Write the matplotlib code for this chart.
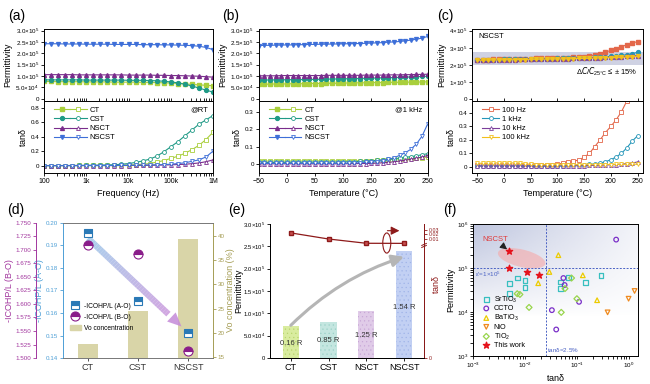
import matplotlib
matplotlib.use('Agg')
import matplotlib.pyplot as plt
import numpy as np
from matplotlib.ticker import FuncFormatter, MultipleLocator, FixedLocator
from matplotlib.legend_handler import HandlerTuple
from matplotlib.lines import Line2D
from matplotlib.patches import Ellipse, Patch
from matplotlib.collections import LineCollection
from matplotlib.colors import to_rgb

plt.rcParams['font.family'] = ['Liberation Sans', 'DejaVu Sans']
plt.rcParams['mathtext.default'] = 'regular'
plt.rcParams['font.size'] = 5
plt.rcParams['axes.linewidth'] = 0.7
plt.rcParams['hatch.linewidth'] = 0.35

# ---------------- (a) frequency sweep at RT ----------------
freq = [100, 147, 215, 316, 464, 681, 1000, 1470, 2150, 3160, 4640, 6810,
        1e4, 1.47e4, 2.15e4, 3.16e4, 4.64e4, 6.81e4, 1e5, 1.47e5, 2.15e5,
        3.16e5, 4.64e5, 6.81e5, 1e6]
# permittivity in units of 1e5
eps_f_ct = [0.76, 0.76, 0.75, 0.75, 0.75, 0.75, 0.74, 0.74, 0.74, 0.74, 0.73, 0.73,
            0.73, 0.73, 0.72, 0.72, 0.71, 0.70, 0.69, 0.67, 0.65, 0.63, 0.61, 0.59, 0.57]
eps_f_cst = [0.83, 0.83, 0.83, 0.83, 0.83, 0.83, 0.82, 0.82, 0.82, 0.82, 0.82, 0.82,
             0.81, 0.81, 0.81, 0.80, 0.79, 0.77, 0.74, 0.70, 0.64, 0.56, 0.47, 0.38, 0.29]
eps_f_nsct = [1.06, 1.06, 1.06, 1.06, 1.06, 1.05, 1.05, 1.05, 1.05, 1.05, 1.05, 1.05,
              1.04, 1.04, 1.04, 1.04, 1.03, 1.03, 1.02, 1.02, 1.01, 1.00, 0.99, 0.97, 0.95]
eps_f_nscst = [2.42, 2.42, 2.42, 2.41, 2.41, 2.41, 2.40, 2.40, 2.40, 2.40, 2.39, 2.39,
               2.39, 2.39, 2.38, 2.38, 2.38, 2.37, 2.37, 2.36, 2.35, 2.34, 2.31, 2.26, 2.16]
tan_f_ct = [0.003, 0.003, 0.003, 0.003, 0.003, 0.004, 0.004, 0.004, 0.005, 0.005, 0.006, 0.008,
            0.01, 0.015, 0.02, 0.03, 0.05, 0.07, 0.10, 0.13, 0.17, 0.22, 0.28, 0.36, 0.46]
tan_f_cst = [0.002, 0.002, 0.002, 0.003, 0.003, 0.004, 0.005, 0.006, 0.008, 0.01, 0.014, 0.02,
             0.03, 0.045, 0.065, 0.09, 0.13, 0.19, 0.26, 0.33, 0.41, 0.49, 0.57, 0.63, 0.69]
tan_f_nsct = [0.001, 0.001, 0.001, 0.001, 0.001, 0.001, 0.002, 0.002, 0.002, 0.002, 0.002, 0.003,
              0.003, 0.004, 0.005, 0.006, 0.008, 0.01, 0.012, 0.016, 0.02, 0.028, 0.038, 0.055, 0.08]
tan_f_nscst = [0.002, 0.002, 0.002, 0.002, 0.002, 0.002, 0.003, 0.003, 0.003, 0.003, 0.004, 0.004,
               0.005, 0.006, 0.008, 0.01, 0.012, 0.016, 0.02, 0.03, 0.04, 0.06, 0.08, 0.12, 0.20]

# ---------------- (b) temperature sweep at 1 kHz ----------------
temps = [-50, -40, -30, -20, -10, 0, 10, 20, 30, 40, 50, 60, 70, 80, 90, 100,
         110, 120, 130, 140, 150, 160, 170, 180, 190, 200, 210, 220, 230, 240, 250]
eps_t_ct = [0.64, 0.64, 0.64, 0.65, 0.65, 0.65, 0.66, 0.66, 0.66, 0.67, 0.67, 0.67, 0.68, 0.68, 0.68,
            0.69, 0.69, 0.70, 0.70, 0.70, 0.71, 0.71, 0.71, 0.72, 0.72, 0.72, 0.73, 0.73, 0.73, 0.74, 0.74]
eps_t_cst = [0.82, 0.82, 0.83, 0.83, 0.83, 0.84, 0.84, 0.84, 0.85, 0.85, 0.85, 0.86, 0.86, 0.87, 0.87,
             0.88, 0.88, 0.89, 0.89, 0.90, 0.91, 0.91, 0.92, 0.93, 0.93, 0.94, 0.95, 0.96, 0.97, 0.98, 0.99]
eps_t_nsct = [1.01, 1.01, 1.01, 1.01, 1.02, 1.02, 1.02, 1.02, 1.02, 1.02, 1.02, 1.02, 1.03, 1.03, 1.03,
              1.03, 1.03, 1.03, 1.03, 1.04, 1.04, 1.04, 1.04, 1.05, 1.05, 1.05, 1.06, 1.06, 1.07, 1.07, 1.08]
eps_t_nscst = [2.34, 2.35, 2.35, 2.36, 2.36, 2.37, 2.37, 2.38, 2.38, 2.39, 2.39, 2.40, 2.40, 2.41, 2.41,
               2.42, 2.42, 2.43, 2.43, 2.44, 2.45, 2.46, 2.47, 2.49, 2.50, 2.52, 2.55, 2.58, 2.62, 2.67, 2.74]
tan_t_ct = [0.018, 0.018, 0.018, 0.018, 0.018, 0.018, 0.018, 0.018, 0.018, 0.018, 0.019, 0.019, 0.019,
            0.019, 0.019, 0.019, 0.02, 0.02, 0.02, 0.02, 0.02,
            0.022, 0.024, 0.026, 0.028, 0.03, 0.032, 0.034, 0.036, 0.038, 0.04]
tan_t_cst = [0.010, 0.010, 0.010, 0.010, 0.010, 0.011, 0.011, 0.011, 0.011, 0.011, 0.012, 0.012, 0.012,
             0.012, 0.012, 0.013, 0.014, 0.015, 0.016, 0.018, 0.02, 0.022, 0.025, 0.028, 0.031, 0.035,
             0.039, 0.043, 0.048, 0.054, 0.06]
tan_t_nsct = [0.002, 0.002, 0.002, 0.002, 0.002, 0.002, 0.002, 0.002, 0.002, 0.002, 0.002, 0.002, 0.002,
              0.002, 0.002, 0.002, 0.003, 0.003, 0.004, 0.004, 0.005, 0.006, 0.008, 0.01, 0.014, 0.018,
              0.023, 0.028, 0.034, 0.041, 0.05]
tan_t_nscst = [0.005, 0.005, 0.005, 0.005, 0.005, 0.005, 0.005, 0.005, 0.005, 0.005, 0.005, 0.005, 0.005,
               0.005, 0.005, 0.005, 0.006, 0.007, 0.008, 0.01, 0.012, 0.015, 0.02, 0.027, 0.037, 0.05,
               0.065, 0.085, 0.115, 0.16, 0.23]

# ---------------- (c) NSCST at several frequencies ----------------
eps_c_100hz = [2.30, 2.31, 2.32, 2.33, 2.33, 2.34, 2.35, 2.35, 2.36, 2.36, 2.37, 2.38, 2.38, 2.39, 2.40,
               2.41, 2.42, 2.43, 2.44, 2.46, 2.48, 2.52, 2.58, 2.66, 2.75, 2.85, 2.96, 3.07, 3.18, 3.28, 3.36]
eps_c_1k = [2.30, 2.31, 2.31, 2.32, 2.32, 2.33, 2.33, 2.34, 2.34, 2.35, 2.35, 2.36, 2.36, 2.37, 2.37,
            2.38, 2.39, 2.39, 2.40, 2.41, 2.42, 2.43, 2.44, 2.46, 2.48, 2.50, 2.53, 2.56, 2.60, 2.66, 2.74]
eps_c_10k = [2.29, 2.29, 2.30, 2.30, 2.31, 2.31, 2.32, 2.32, 2.33, 2.33, 2.34, 2.34, 2.35, 2.35, 2.36,
             2.36, 2.37, 2.37, 2.38, 2.39, 2.40, 2.41, 2.42, 2.43, 2.44, 2.45, 2.47, 2.48, 2.50, 2.52, 2.55]
eps_c_100k = [2.28, 2.28, 2.29, 2.29, 2.30, 2.30, 2.31, 2.31, 2.32, 2.32, 2.33, 2.33, 2.34, 2.34, 2.35,
              2.35, 2.36, 2.36, 2.37, 2.38, 2.38, 2.39, 2.40, 2.41, 2.42, 2.43, 2.44, 2.45, 2.46, 2.48, 2.50]
tan_c_100hz = [0.012, 0.012, 0.012, 0.012, 0.012, 0.012, 0.012, 0.012, 0.012, 0.012, 0.012, 0.012, 0.012,
               0.012, 0.012, 0.02, 0.025, 0.032, 0.04, 0.05, 0.07, 0.10, 0.15, 0.20, 0.255, 0.30, 0.35,
               0.41, 0.49, 0.58, 0.68]
tan_c_1k = [0.005, 0.005, 0.005, 0.005, 0.005, 0.005, 0.005, 0.005, 0.005, 0.005, 0.005, 0.005, 0.005,
            0.005, 0.005, 0.005, 0.007, 0.009, 0.011, 0.013, 0.015, 0.018, 0.021, 0.027, 0.037, 0.052,
            0.072, 0.10, 0.14, 0.19, 0.23]
tan_c_10k = [0.005, 0.005, 0.005, 0.005, 0.005, 0.005, 0.005, 0.005, 0.005, 0.005, 0.005, 0.005, 0.005,
             0.005, 0.005, 0.005, 0.006, 0.006, 0.007, 0.007, 0.008, 0.009, 0.01, 0.011, 0.012, 0.014,
             0.016, 0.019, 0.023, 0.028, 0.035]
tan_c_100k = [0.025, 0.026, 0.027, 0.028, 0.028, 0.028, 0.028, 0.028, 0.027, 0.022, 0.017, 0.015, 0.015,
              0.015, 0.015, 0.015, 0.015, 0.015, 0.015, 0.015, 0.015, 0.015, 0.015, 0.015, 0.016, 0.016,
              0.017, 0.017, 0.018, 0.018, 0.019]

# ---------------- (d) ICOHP and oxygen vacancies ----------------
samples_d = ['CT', 'CST', 'NSCST']
icohp_ao = [0.1955, 0.1653, 0.1510]
icohp_bo = [1.709, 1.692, 1.513]
vo_conc = [17.7, 24.6, 39.3]

# ---------------- (e) permittivity / tan at RT ----------------
samples_e = ['CT', 'CST', 'NSCT', 'NSCST']
eps_e = [7.1e4, 8.1e4, 1.05e5, 2.385e5]
tan_e = [0.0235, 0.0100, 0.0005, 0.0003]
ratio_labels = ['0.16 R', '0.85 R', '1.25 R', '1.54 R']

# ---------------- (f) comparison with literature ----------------
sto_tan = [0.005, 0.005, 0.0071, 0.01, 0.01, 0.049, 0.049, 0.069, 0.148, 0.29]
sto_eps = [4.5e4, 2.6e4, 5.9e4, 5.2e4, 3.6e4, 4.8e4, 3.4e4, 6.0e4, 4.7e4, 6.8e4]
ccto_tan = [0.57, 0.055, 0.058, 0.033, 0.11, 0.04]
ccto_eps = [4.4e5, 5.9e4, 4.1e4, 1.1e4, 1.7e4, 4.0e3]
bto_tan = [0.044, 0.0295, 0.018, 0.13, 0.245]
bto_eps = [1.95e5, 8.1e4, 4.5e4, 6.8e4, 1.85e4]
nio_tan = [1.29, 0.99, 0.39]
nio_eps = [3.0e4, 2.0e4, 9.8e3]
tio2_tan = [0.0071, 0.008, 0.012, 0.059, 0.079, 0.1, 0.05]
tio2_eps = [2.6e4, 2.5e4, 1.27e4, 3.4e4, 5.9e4, 2.0e4, 9.8e3]
work_tan = [0.005, 0.005, 0.011, 0.0186]
work_eps = [2.4e5, 1.0e5, 8.0e4, 6.8e4]
tan_limit = 0.025
eps_limit = 1e5

col_ct, col_cst, col_nsct, col_nscst = '#a9cf3c', '#1f9a86', '#7a2d8c', '#3e6fd8'
col_f = ['#e3674a', '#2596b9', '#7c3f9b', '#f2c01c']


def sci_label(v, digits):
    if abs(v) < 1e-9:
        return '0'
    e = int(np.floor(np.log10(abs(v)) + 1e-9))
    m = v / 10 ** e
    return rf'${m:.{digits}f}{{\times}}10^{{{e}}}$'


fmt1 = FuncFormatter(lambda v, p: sci_label(v, 1))
fmt0 = FuncFormatter(lambda v, p: sci_label(v, 0))

fig = plt.figure(figsize=(6.5, 3.84), dpi=100)


def tick_style(ax, size=4.5):
    ax.tick_params(labelsize=size, length=2, width=0.6, pad=1.5)


def stack_axes(left, width):
    top = fig.add_axes([left, 0.737, width, 0.1875])
    bot = fig.add_axes([left, 0.5495, width, 0.1875], sharex=top)
    tick_style(top)
    tick_style(bot)
    top.tick_params(labelbottom=False)
    top.tick_params(axis='x', which='both', direction='in')
    top.set_ylabel('Permittivity', fontsize=6.5, labelpad=2)
    bot.set_ylabel(r'tan$\delta$', fontsize=6.5, labelpad=2)
    return top, bot


def tuple_legend(ax, series):
    handles, labels = [], []
    for name, c, m in series:
        h1 = Line2D([], [], color=c, marker=m, ms=2.8, lw=0.8)
        h2 = Line2D([], [], color=c, marker=m, ms=2.8, lw=0.8, mfc='white', mew=0.6)
        handles.append((h1, h2))
        labels.append(name)
    ax.legend(handles, labels, handler_map={tuple: HandlerTuple(ndivide=None, pad=0)},
              loc='upper left', bbox_to_anchor=(0.03, 1.0), frameon=False, fontsize=5.5,
              handlelength=4.2, labelspacing=0.25, handletextpad=0.4, borderaxespad=0.3)


# ---- (a)
ax_a1, ax_a2 = stack_axes(0.0677, 0.26)
series_a = [('CT', eps_f_ct, tan_f_ct, col_ct, 's'),
            ('CST', eps_f_cst, tan_f_cst, col_cst, 'o'),
            ('NSCT', eps_f_nsct, tan_f_nsct, col_nsct, '^'),
            ('NSCST', eps_f_nscst, tan_f_nscst, col_nscst, 'v')]
for name, eps, tan, c, m in series_a:
    ax_a1.plot(freq, np.array(eps) * 1e5, color=c, marker=m, ms=2.8, lw=0.8)
    ax_a2.plot(freq, tan, color=c, marker=m, ms=2.8, lw=0.8, mfc='white', mew=0.6)
ax_a1.set_xscale('log')
ax_a1.set_xlim(100, 1e6)
ax_a1.set_ylim(-1e4, 3.07e5)
ax_a1.yaxis.set_major_locator(FixedLocator([0, 5e4, 1e5, 1.5e5, 2e5, 2.5e5, 3e5]))
ax_a1.yaxis.set_major_formatter(fmt1)
ax_a2.set_ylim(-0.1, 0.89)
ax_a2.yaxis.set_major_locator(MultipleLocator(0.2))
ax_a2.yaxis.set_major_formatter(FuncFormatter(lambda v, p: '0' if abs(v) < 1e-9 else f'{v:.1f}'))
ax_a2.xaxis.set_major_locator(FixedLocator([100, 1e3, 1e4, 1e5, 1e6]))
ax_a2.set_xticklabels(['100', '1k', '10k', '100k', '1M'])
ax_a2.tick_params(axis='x', labelsize=5)
ax_a2.set_xlabel('Frequency (Hz)', fontsize=6.5, labelpad=3)
tuple_legend(ax_a2, [(s[0], s[3], s[4]) for s in series_a])
ax_a2.text(0.97, 0.86, '@RT', transform=ax_a2.transAxes, ha='right', fontsize=5.5)

# ---- (b)
ax_b1, ax_b2 = stack_axes(0.398, 0.26)
series_b = [('CT', eps_t_ct, tan_t_ct, col_ct, 's'),
            ('CST', eps_t_cst, tan_t_cst, col_cst, 'o'),
            ('NSCT', eps_t_nsct, tan_t_nsct, col_nsct, '^'),
            ('NSCST', eps_t_nscst, tan_t_nscst, col_nscst, 'v')]
for name, eps, tan, c, m in series_b:
    ax_b1.plot(temps, np.array(eps) * 1e5, color=c, marker=m, ms=2.8, lw=0.8)
    ax_b2.plot(temps, tan, color=c, marker=m, ms=2.8, lw=0.8, mfc='white', mew=0.6)
ax_b1.set_xlim(-50, 250)
ax_b1.set_ylim(-1e4, 3.07e5)
ax_b1.yaxis.set_major_locator(FixedLocator([0, 5e4, 1e5, 1.5e5, 2e5, 2.5e5, 3e5]))
ax_b1.yaxis.set_major_formatter(fmt1)
ax_b2.set_ylim(-0.05, 0.36)
ax_b2.yaxis.set_major_locator(MultipleLocator(0.1))
ax_b2.yaxis.set_major_formatter(FuncFormatter(lambda v, p: '0' if abs(v) < 1e-9 else f'{v:.1f}'))
ax_b2.xaxis.set_major_locator(MultipleLocator(50))
ax_b2.tick_params(axis='x', labelsize=5)
ax_b2.set_xlabel('Temperature (°C)', fontsize=6.5, labelpad=3)
tuple_legend(ax_b2, [(s[0], s[3], s[4]) for s in series_b])
ax_b2.text(0.97, 0.86, '@1 kHz', transform=ax_b2.transAxes, ha='right', fontsize=5.5)

# ---- (c)
ax_c1, ax_c2 = stack_axes(0.726, 0.263)
series_c = [('100 Hz', eps_c_100hz, tan_c_100hz, col_f[0], 's'),
            ('1 kHz', eps_c_1k, tan_c_1k, col_f[1], 'o'),
            ('10 kHz', eps_c_10k, tan_c_10k, col_f[2], '^'),
            ('100 kHz', eps_c_100k, tan_c_100k, col_f[3], 'v')]
c25 = (eps_c_1k[7] + eps_c_1k[8]) / 2 * 1e5
ax_c1.axhspan(c25 * 0.86, c25 * 1.18, color='#cfd2e3', lw=0, zorder=0)
for name, eps, tan, c, m in series_c:
    ax_c1.plot(temps, np.array(eps) * 1e5, color=c, marker=m, ms=2.8, lw=0.8)
    ax_c2.plot(temps, tan, color=c, marker=m, ms=2.8, lw=0.8, mfc='white', mew=0.6, label=name)
ax_c1.set_xlim(-60, 260)
ax_c1.set_ylim(-1e4, 4.1e5)
ax_c1.yaxis.set_major_locator(MultipleLocator(1e5))
ax_c1.yaxis.set_major_formatter(fmt0)
ax_c1.text(0.04, 0.87, 'NSCST', transform=ax_c1.transAxes, fontsize=5.5)
ax_c1.text(0.97, 0.36, r'$\Delta\mathit{C}/\mathit{C}_{25°C}\leq\pm$15%', transform=ax_c1.transAxes,
           ha='right', fontsize=5.5)
ax_c2.set_ylim(-0.047, 0.49)
ax_c2.yaxis.set_major_locator(MultipleLocator(0.1))
ax_c2.yaxis.set_major_formatter(FuncFormatter(lambda v, p: '0' if abs(v) < 1e-9 else f'{v:.1f}'))
ax_c2.xaxis.set_major_locator(MultipleLocator(50))
ax_c2.tick_params(axis='x', labelsize=5)
ax_c2.set_xlabel('Temperature (°C)', fontsize=6.5, labelpad=3)
ax_c2.legend(loc='upper left', bbox_to_anchor=(0.03, 1.0), frameon=False, fontsize=5.5,
             handlelength=2.2, labelspacing=0.25, handletextpad=0.4, borderaxespad=0.3)

# ---- (d)
c_ao, c_bo, c_vo = '#4d9fd6', '#a2369e', '#a59d55'
ax_d = fig.add_axes([0.0969, 0.0677, 0.2308, 0.3516])
ax_vo = ax_d.twinx()
ax_bo = ax_d.twinx()
ax_vo.set_zorder(0)
ax_d.set_zorder(1)
ax_bo.set_zorder(2)
ax_d.patch.set_visible(False)
ax_vo.patch.set_visible(True)
x_d = np.arange(len(samples_d))
ax_vo.bar(x_d, vo_conc, width=0.4, color='#d9d5a8', label='Vo concentration')
ax_vo.set_ylim(14.8, 42.7)
ax_vo.yaxis.set_major_locator(MultipleLocator(5))
ax_vo.set_ylabel('Vo concentration (%)', color=c_vo, fontsize=6.5, labelpad=1)
ax_vo.tick_params(axis='y', colors=c_vo, labelsize=4.5, length=2, width=0.6, pad=1.5)
ax_vo.spines['right'].set_color(c_vo)
for s in ['left', 'top', 'bottom']:
    ax_vo.spines[s].set_visible(False)

ax_d.set_xlim(-0.5, 2.5)
ax_d.set_ylim(0.14, 0.20)
ax_d.yaxis.set_major_locator(MultipleLocator(0.01))
ax_d.yaxis.set_major_formatter(FuncFormatter(lambda v, p: f'{v:.2f}'))
ax_d.set_xticks(x_d)
ax_d.set_xticklabels(samples_d, fontsize=6.5)
ax_d.tick_params(axis='x', length=2, width=0.6, pad=1.5, colors='#333333')
ax_d.tick_params(axis='y', colors=c_ao, labelsize=4.5, length=2, width=0.6, pad=1.5)
ax_d.spines['left'].set_color(c_ao)
ax_d.spines['right'].set_visible(False)
ax_d.spines['top'].set_color('#777777')
ax_d.spines['bottom'].set_color('#777777')
ax_d.set_ylabel('-ICOHP/L (A-O)', color=c_ao, fontsize=6.5, labelpad=1)

# gradient arrow from CT to NSCST
p0 = np.array([0.0, 0.1932])
p1 = np.array([1.87, 0.154])
nseg = 40
ts = np.linspace(0, 0.86, nseg + 1)
pts = p0 + np.outer(ts, p1 - p0)
segs = np.stack([pts[:-1], pts[1:]], axis=1)
ca, cb = np.array(to_rgb('#8fc0e6')), np.array(to_rgb('#c48ad8'))
cols = [ca + (cb - ca) * t / 0.86 for t in ts[:-1]]
ax_d.add_collection(LineCollection(segs, colors=cols, linewidths=4.5, alpha=0.75,
                                   capstyle='butt', zorder=2))
ax_d.annotate('', xy=tuple(p1), xytext=tuple(pts[-1]),
              arrowprops=dict(arrowstyle='-|>,head_width=0.45,head_length=1.0',
                              mutation_scale=10, color='#c48ad8', lw=0, alpha=0.85,
                              shrinkA=0, shrinkB=0), zorder=2)
ax_d.plot(x_d, icohp_ao, ls='none', marker='s', ms=6, color='#2a79b6', mfc='#2a79b6',
          mfcalt='white', fillstyle='top', mew=0.8, zorder=3, label='-ICOHP/L (A-O)')

ax_bo.plot(x_d, icohp_bo, ls='none', marker='o', ms=6.5, color='#8a1d8a', mfc='#8a1d8a',
           mfcalt='white', fillstyle='top', mew=0.8, zorder=3, label='-ICOHP/L (B-O)')
ax_bo.set_ylim(1.5, 1.75)
ax_bo.yaxis.set_major_locator(MultipleLocator(0.025))
ax_bo.yaxis.set_major_formatter(FuncFormatter(lambda v, p: f'{v:.3f}'))
ax_bo.yaxis.set_ticks_position('left')
ax_bo.yaxis.set_label_position('left')
ax_bo.spines['left'].set_visible(True)
ax_bo.spines['left'].set_position(('outward', 19.4))
ax_bo.spines['left'].set_color(c_bo)
for s in ['right', 'top', 'bottom']:
    ax_bo.spines[s].set_visible(False)
ax_bo.tick_params(axis='y', colors=c_bo, labelsize=4.5, length=2, width=0.6, pad=1.5)
ax_bo.set_ylabel('-ICOHP/L (B-O)', color=c_bo, fontsize=6.5, labelpad=1)

h_ao = Line2D([], [], ls='none', marker='s', ms=6, color='#2a79b6', mfcalt='white', fillstyle='top', mew=0.8)
h_bo = Line2D([], [], ls='none', marker='o', ms=6.5, color='#8a1d8a', mfcalt='white', fillstyle='top', mew=0.8)
h_vo = Patch(color='#d9d5a8')
ax_bo.legend([h_ao, h_bo, h_vo], ['-ICOHP/L (A-O)', '-ICOHP/L (B-O)', 'Vo concentration'],
             loc='upper left', bbox_to_anchor=(0.02, 0.44), frameon=False, fontsize=4.8,
             handlelength=1.6, labelspacing=0.6, handletextpad=0.5, borderaxespad=0.2)

# ---- (e)
ax_e = fig.add_axes([0.4154, 0.0677, 0.237, 0.349])
ax_e2 = ax_e.twinx()
x_e = np.arange(len(samples_e))
bar_cols = ['#d9ec9f', '#c4e6e0', '#e0cbe8', '#c2d0f3']
hatch_cols = ['#b7d46a', '#98d0c6', '#c7a6d6', '#9fb3e8']
for xi, h, fc, hc in zip(x_e, eps_e, bar_cols, hatch_cols):
    ax_e.bar(xi, h, width=0.43, color=fc, edgecolor=hc, lw=0, hatch='....', zorder=1)
for xi, h, txt in zip(x_e, eps_e, ratio_labels):
    ax_e.text(xi, h * 0.47, txt, ha='center', va='center', fontsize=5.5, color='#333333', zorder=3)
ax_e.annotate('', xy=(x_e[-1], eps_e[-1] * 0.95), xytext=(x_e[0], eps_e[0] * 1.03),
              arrowprops=dict(arrowstyle='-|>,head_width=0.35,head_length=0.7', mutation_scale=10,
                              connectionstyle='arc3,rad=-0.12', color='#b5b5b5', lw=2.2,
                              shrinkA=0, shrinkB=0), zorder=2)
ax_e.set_xlim(-0.55, 3.53)
ax_e.set_ylim(0, 3e5)
ax_e.yaxis.set_major_locator(MultipleLocator(5e4))
ax_e.yaxis.set_major_formatter(fmt1)
ax_e.set_xticks(x_e)
ax_e.set_xticklabels(samples_e, fontsize=6.5)
tick_style(ax_e, 4.2)
ax_e.tick_params(axis='x', labelsize=6.5)
ax_e.set_ylabel('Permittivity', fontsize=6.5, labelpad=0)
ax_e.spines['top'].set_visible(False)

c_tan = '#8e1a1a'
tan_lo = -0.254
ax_e2.plot(x_e, tan_e, color=c_tan, marker='s', ms=3.2, mfc='#c85050', mec=c_tan, lw=0.9)
ax_e2.set_ylim(tan_lo, 0.0433)
ax_e2.yaxis.set_major_locator(FixedLocator([tan_lo, 0.01, 0.02, 0.03]))
ax_e2.set_yticklabels(['0', '0.01', '0.02', '0.03'])
ax_e2.tick_params(axis='y', colors=c_tan, labelsize=3.8, length=2, width=0.6, pad=1.2)
ax_e2.spines['right'].set_color(c_tan)
ax_e2.spines['top'].set_visible(False)
ax_e2.set_ylabel(r'tan$\delta$', color=c_tan, fontsize=6.5)
ax_e2.yaxis.set_label_coords(1.04, 0.55)
for dy in (0.0, 0.015):
    ax_e2.plot([0.985, 1.015], [0.825 + dy, 0.84 + dy], transform=ax_e2.transAxes,
               color=c_tan, lw=0.7, clip_on=False)
ax_e2.add_patch(Ellipse((0.758, 0.858), 0.052, 0.15, transform=ax_e2.transAxes,
                        fill=False, ec=c_tan, lw=0.8))
ax_e2.annotate('', xy=(0.84, 0.95), xytext=(0.762, 0.95), xycoords='axes fraction',
               textcoords='axes fraction',
               arrowprops=dict(arrowstyle='-|>,head_width=0.25,head_length=0.5', mutation_scale=10,
                               color=c_tan, lw=0.8, shrinkA=0, shrinkB=0))

# ---- (f)
pos_f = [0.7277, 0.0729, 0.2538, 0.344]
bg = fig.add_axes(pos_f, zorder=-1)
gx, gy = np.meshgrid(np.linspace(0, 1, 200), np.linspace(0, 1, 200))
img = np.zeros((200, 200, 4))
img[..., :3] = to_rgb('#a9b2d4')
img[..., 3] = np.clip((gy - 0.3) / 0.7, 0, 1) ** 0.8 * (1 - 0.8 * gx) * 0.75
bg.imshow(img, extent=(0, 1, 0, 1), origin='lower', aspect='auto')
bg.set_axis_off()

ax_f = fig.add_axes(pos_f)
ax_f.patch.set_alpha(0)
ax_f.set_xscale('log')
ax_f.set_yscale('log')
ax_f.set_xlim(1e-3, 1.5)
ax_f.set_ylim(1e3, 1e6)
ax_f.add_patch(Ellipse((0.295, 0.74), 0.30, 0.13, angle=-18, transform=ax_f.transAxes,
                       color='#f6a8a8', alpha=0.6, lw=0, zorder=1))
ax_f.axvline(tan_limit, color='#4a62c4', lw=0.7, ls=(0, (2, 1.5)), zorder=1)
ax_f.axhline(eps_limit, color='#4a62c4', lw=0.7, ls=(0, (2, 1.5)), zorder=1)
mk = dict(s=11, facecolors='none', linewidths=0.9, zorder=3)
ax_f.scatter(sto_tan, sto_eps, marker='s', edgecolors='#38bfc0', label='SrTiO$_3$', **mk)
ax_f.scatter(ccto_tan, ccto_eps, marker='o', edgecolors='#7a2fc8', label='CCTO', **mk)
ax_f.scatter(bto_tan, bto_eps, marker='^', edgecolors='#eccb00', label='BaTiO$_3$', **mk)
ax_f.scatter(nio_tan, nio_eps, marker='v', edgecolors='#ef8a1e', label='NiO', **mk)
ax_f.scatter(tio2_tan, tio2_eps, marker='D', edgecolors='#98d54c', label='TiO$_2$', s=9,
             facecolors='none', linewidths=0.9, zorder=3)
ax_f.scatter(work_tan, work_eps, marker='*', color='#e5121c', s=22, label='This work', zorder=4)
ax_f.annotate('NSCST', xy=(work_tan[0], work_eps[0]), xytext=(0.055, 0.87),
              textcoords='axes fraction', color='#e03a3a', fontsize=5.5,
              arrowprops=dict(arrowstyle='-|>,head_width=0.2,head_length=0.4', mutation_scale=10,
                              color='#222222', lw=0.8, shrinkA=1, shrinkB=2))
ax_f.text(0.01, eps_limit * 0.93, r"$\varepsilon$'=1×10$^5$", transform=ax_f.get_yaxis_transform(),
          color='#4a62c4', fontsize=4.5, va='top')
ax_f.text(tan_limit * 1.08, 0.015, r'tan$\delta$=2.5%', transform=ax_f.get_xaxis_transform(),
          color='#4a62c4', fontsize=4.5, va='bottom')
ax_f.legend(loc='lower left', bbox_to_anchor=(0.03, 0.03), frameon=False, fontsize=5.2,
            handletextpad=0.3, labelspacing=0.08, borderaxespad=0.0, handlelength=1.5)
tick_style(ax_f)
ax_f.set_ylabel('Permittivity', fontsize=6.5, labelpad=1)
ax_f.set_xlabel(r'tan$\delta$', fontsize=6.5, labelpad=1)

# panel letters
for x, y, t in [(8, 20, '(a)'), (222, 20, '(b)'), (437, 20, '(c)'),
                (7, 214, '(d)'), (228, 214, '(e)'), (443, 214, '(f)')]:
    fig.text(x / 650, 1 - y / 384, t, fontsize=10)

fig.savefig('out.png', dpi=100)
